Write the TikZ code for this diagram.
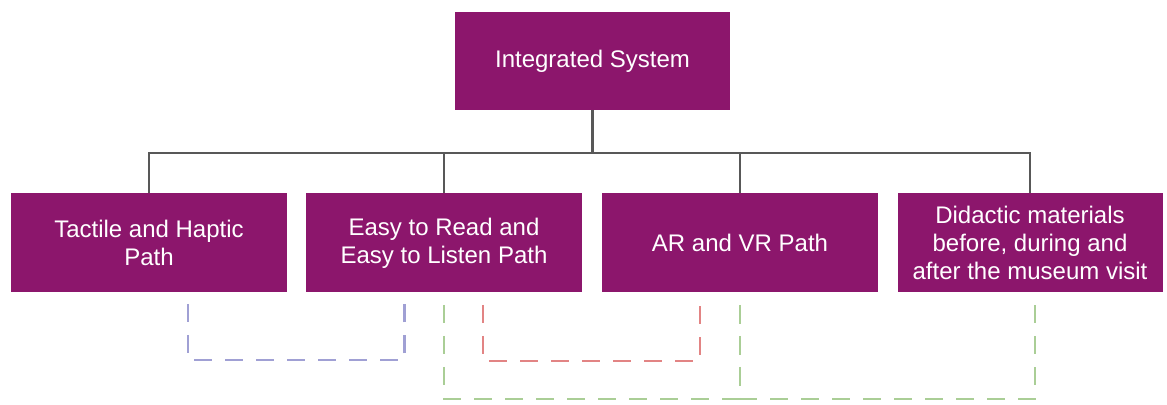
\documentclass[tikz,border=0pt]{standalone}
\usepackage{fontspec}
\setmainfont{Liberation Sans}
\usepackage{tikz}

\definecolor{plum}{RGB}{140,22,108}
\definecolor{linegray}{RGB}{88,88,88}
\definecolor{dashblue}{RGB}{160,160,212}
\definecolor{dashred}{RGB}{226,132,132}
\definecolor{dashgreen}{RGB}{170,206,150}

\tikzset{
	pathbox/.style={fill=plum, text=white, align=center, inner sep=0pt,
		minimum width=138pt, minimum height=49.5pt, font=\fontsize{12}{14}\selectfont},
	tree/.style={draw=linegray, line width=1.4pt},
	link/.style={line width=1.3pt, dash pattern=on 9pt off 6.5pt}
}

\begin{document}
\begin{tikzpicture}[x=0.5pt,y=-0.5pt]
		\useasboundingbox (0,0) rectangle (1167,405);
		\node[pathbox, minimum width=137.5pt, minimum height=49pt] (system) at (592.5,61) {Integrated System};
		\node[pathbox] (tactile) at (149,243) {Tactile and Haptic\\Path};
		\node[pathbox] (easy) at (444,243) {Easy to Read and\\Easy to Listen Path};
		\node[pathbox] (arvr) at (740,243) {AR and VR Path};
		\node[pathbox, minimum width=132.5pt] (didactic) at (1030,243) {Didactic materials\\before, during and\\after the museum visit};
		
		\coordinate (bar) at (592.5,153);
		\draw[tree] (system.south) -- (bar);
		\foreach \n in {tactile,easy,arvr,didactic}
			\draw[tree] (\n.north) |- (bar);
		
		\coordinate (b1) at (188,304);
		\coordinate (b2) at (404.5,304);
		\coordinate (r1) at (483,305);
		\coordinate (r2) at (700,305);
		\coordinate (g1) at (444,305);
		\coordinate (g2) at (740,305);
		\coordinate (g3) at (1035,305);
		\draw[link, dashblue] (b1) -- ++(0,56) -| (b2);
		\draw[link, dashred] (r1) -- ++(0,56) -| (r2);
		\draw[link, dashgreen] (g1) -- ++(0,94) -| (g2);
		\draw[link, dashgreen] (g2) -- ++(0,94) -| (g3);
	\end{tikzpicture}
\end{document}
